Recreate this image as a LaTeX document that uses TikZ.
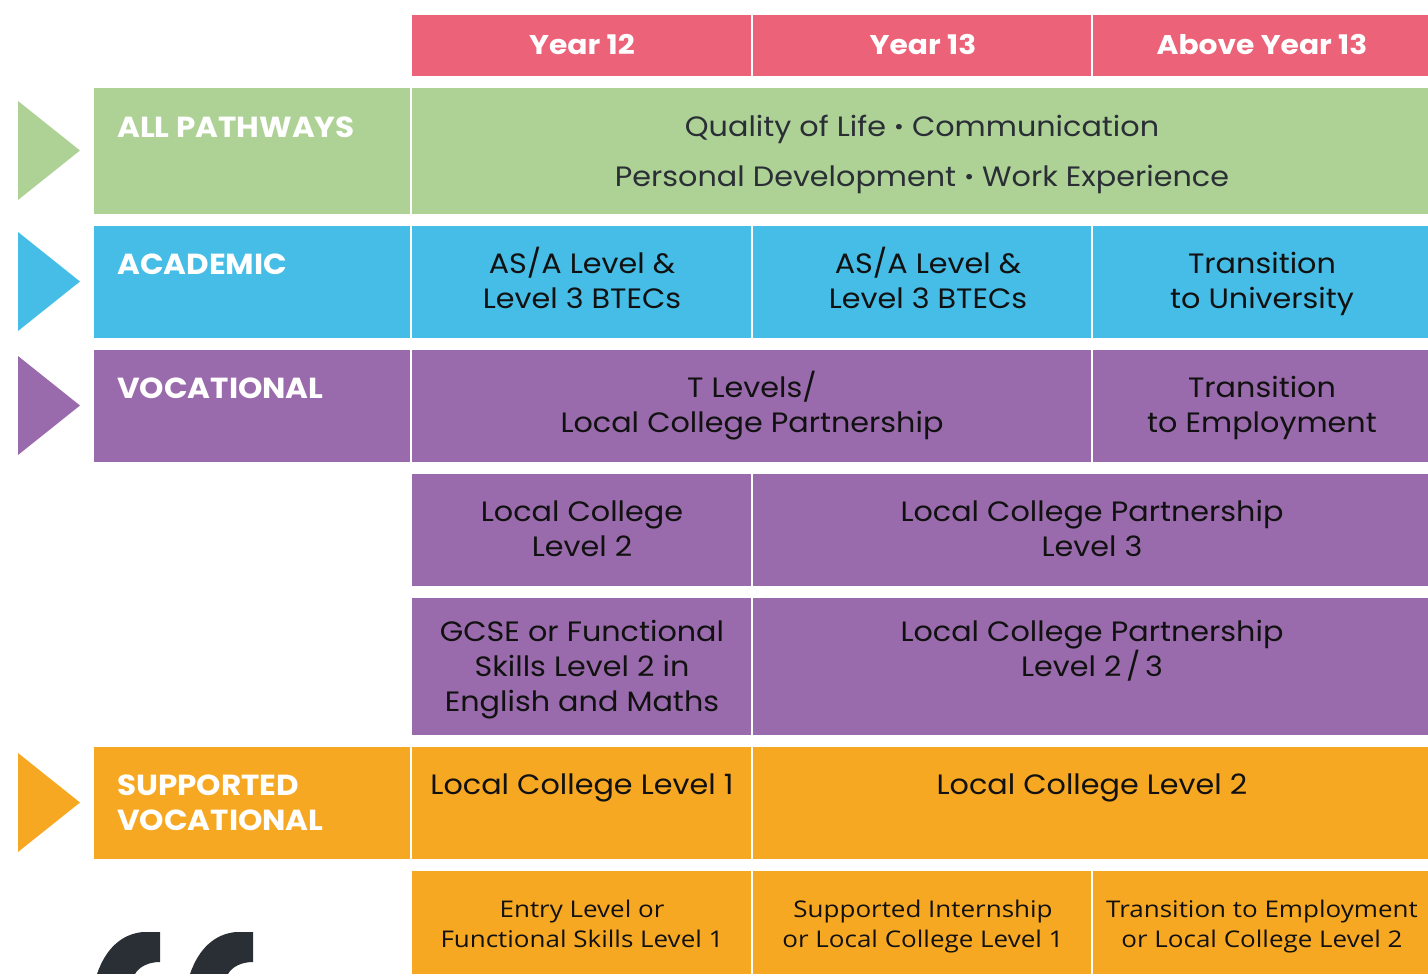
\documentclass[tikz,border=0pt]{standalone}
\usepackage{fontspec}
\setmainfont{Poppins}
\newfontfamily\bodyfont[FakeStretch=1.08]{Poppins}
\newfontfamily\headfont[FakeStretch=1.10]{Poppins}[BoldFont=* Bold]
\newfontfamily\labfont[FakeStretch=1.07]{Poppins}[BoldFont=* Bold]
\newfontfamily\rowfont[FakeStretch=1.13]{Open Sans}
\definecolor{cpink}{HTML}{EC6278}
\definecolor{cgreen}{HTML}{AED296}
\definecolor{cblue}{HTML}{45BDE6}
\definecolor{cpurple}{HTML}{9A6BAC}
\definecolor{corange}{HTML}{F7A823}
\definecolor{cdark}{HTML}{2A2E35}
\definecolor{ctext}{HTML}{111111}
\tikzset{
  cellbox/.style={inner sep=0pt, outer sep=0pt, anchor=north west},
  headtxt/.style={font=\headfont\bfseries\fontsize{27}{30}\selectfont, text=white, align=center, anchor=base, inner sep=0pt},
  labtxt/.style={font=\labfont\bfseries\fontsize{29}{35}\selectfont, text=white, align=left, anchor=base west, inner sep=0pt},
  bodytxt/.style={font=\bodyfont\fontsize{28}{35}\selectfont, text=ctext, align=center, anchor=base, inner sep=0pt},
  greentxt/.style={font=\bodyfont\fontsize{28}{35}\selectfont, text=cdark, align=center, anchor=base, inner sep=0pt},
  smalltxt/.style={font=\rowfont\fontsize{23}{30}\selectfont, text=ctext, align=center, anchor=base, inner sep=0pt}
}
% node anchors at the baseline of the LAST line of text
\newcommand{\cellat}[6]{%
  \node[cellbox, fill=#6, minimum width={(#4-#2)*1pt}, minimum height={(#5-#3)*1pt}] (#1) at (#2pt,-#3pt) {};}
\newcommand{\dotsep}{{\fontsize{22}{22}\selectfont\raisebox{0.12ex}{•}}}
\begin{document}
\begin{tikzpicture}[x=1pt,y=-1pt]
\useasboundingbox (0,0) rectangle (1428,974);
% header
\cellat{h1}{412}{15}{750.5}{76}{cpink}
\cellat{h2}{752.5}{15}{1091}{76}{cpink}
\cellat{h3}{1093}{15}{1428}{76}{cpink}
\node[headtxt] (th1) at (582,55) {Year 12};
\node[headtxt] (th2) at (923,55) {Year 13};
\node[headtxt] (th3) at (1262,55) {Above Year 13};
% row 1
\cellat{l1}{94}{88}{410}{214}{cgreen}
\cellat{c1}{412}{88}{1428}{214}{cgreen}
\node[labtxt] (tl1) at (117,137) {ALL PATHWAYS};
\node[greentxt] (tc1a) at (922,136) {Quality of Life \dotsep{} Communication};
\node[greentxt] (tc1b) at (922,186) {Personal Development \dotsep{} Work Experience};
% row 2
\cellat{l2}{94}{226}{410}{338}{cblue}
\cellat{a1}{412}{226}{750.5}{338}{cblue}
\cellat{a2}{752.5}{226}{1091}{338}{cblue}
\cellat{a3}{1093}{226}{1428}{338}{cblue}
\node[labtxt] (tl2) at (117,274) {ACADEMIC};
\node[bodytxt] (ta1) at (582,308) {AS/A Level \&\\Level 3 BTECs};
\node[bodytxt] (ta2) at (928,308) {AS/A Level \&\\Level 3 BTECs};
\node[bodytxt] (ta3) at (1262,308) {Transition\\to University};
% row 3
\cellat{l3}{94}{350}{410}{462}{cpurple}
\cellat{v1}{412}{350}{1091}{462}{cpurple}
\cellat{v2}{1093}{350}{1428}{462}{cpurple}
\node[labtxt] (tl3) at (117,398) {VOCATIONAL};
\node[bodytxt] (tv1) at (752,432) {T Levels/\\Local College Partnership};
\node[bodytxt] (tv2) at (1262,432) {Transition\\to Employment};
% row 4
\cellat{p1}{412}{474}{750.5}{586}{cpurple}
\cellat{p2}{752.5}{474}{1428}{586}{cpurple}
\node[bodytxt] (tp1) at (582,556) {Local College\\Level 2};
\node[bodytxt] (tp2) at (1092,556) {Local College Partnership\\Level 3};
% row 5
\cellat{g1}{412}{598}{750.5}{735}{cpurple}
\cellat{g2}{752.5}{598}{1428}{735}{cpurple}
\node[bodytxt] (tg1) at (582,711) {GCSE or Functional\\Skills Level 2 in\\English and Maths};
\node[bodytxt] (tg2) at (1092,676) {Local College Partnership\\Level 2\,/\,3};
% row 6
\cellat{l6}{94}{747}{410}{859}{corange}
\cellat{s1}{412}{747}{750.5}{859}{corange}
\cellat{s2}{752.5}{747}{1428}{859}{corange}
\node[labtxt] (tl6) at (117,830) {SUPPORTED\\VOCATIONAL};
\node[bodytxt] (ts1) at (582,794) {Local College Level 1};
\node[bodytxt] (ts2) at (1092,794) {Local College Level 2};
% row 7
\cellat{e1}{412}{871}{750.5}{980}{corange}
\cellat{e2}{752.5}{871}{1091}{980}{corange}
\cellat{e3}{1093}{871}{1428}{980}{corange}
\node[smalltxt] (te1) at (582,947) {Entry Level or\\Functional Skills Level 1};
\node[smalltxt] (te2) at (923,947) {Supported Internship\\or Local College Level 1};
\node[smalltxt] (te3) at (1262,947) {Transition to Employment\\or Local College Level 2};
% triangles
\fill[cgreen] (18,101) -- (80,150.5) -- (18,200) -- cycle;
\fill[cblue] (18,232) -- (80,281.5) -- (18,331) -- cycle;
\fill[cpurple] (18,356) -- (80,405.5) -- (18,455) -- cycle;
\fill[corange] (18,753) -- (80,802.5) -- (18,852) -- cycle;
% quote marks
\fill[cdark] (160,932) -- (160,962) .. controls (148,962) and (139,967) .. (135,974) -- (97,974) .. controls (106,948) and (122,934) .. (143,932) -- cycle;
\fill[cdark] (253,932) -- (253,962) .. controls (241,962) and (232,967) .. (228,974) -- (190,974) .. controls (199,948) and (215,934) .. (236,932) -- cycle;
\end{tikzpicture}
\end{document}
